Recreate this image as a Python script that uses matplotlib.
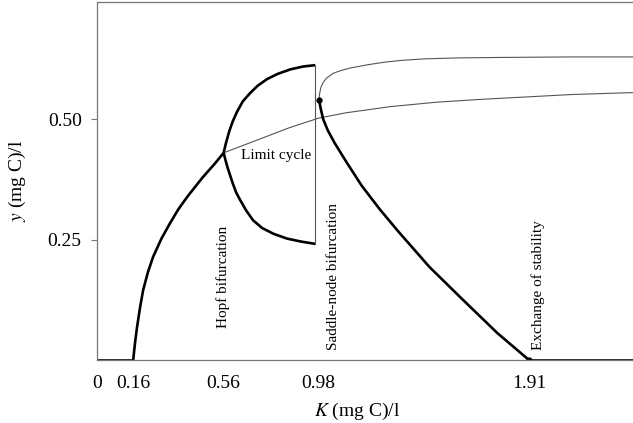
import matplotlib.pyplot as plt
import numpy as np

plt.rcParams['font.family'] = ['Liberation Serif', 'DejaVu Serif']
plt.rcParams['mathtext.fontset'] = 'stix'

# equilibrium rising from K = 0.16 up to the Hopf point
rise_K = [0.16, 0.168, 0.177, 0.19, 0.204, 0.225, 0.248, 0.285, 0.323, 0.36, 0.398, 0.435, 0.469, 0.52, 0.56]
rise_y = [0.0, 0.035, 0.068, 0.108, 0.145, 0.182, 0.214, 0.252, 0.284, 0.313, 0.338, 0.36, 0.38, 0.407, 0.43]

# unstable equilibrium after Hopf (thin)
unst_K = [0.56, 0.7, 0.85, 0.98, 1.1, 1.3, 1.5, 1.7, 1.9, 2.1, 2.37]
unst_y = [0.43, 0.455, 0.482, 0.502, 0.513, 0.526, 0.535, 0.541, 0.546, 0.551, 0.555]

# limit cycle max / min
lcmax_K = [0.56, 0.57, 0.585, 0.60, 0.62, 0.645, 0.677, 0.71, 0.752, 0.80, 0.854, 0.91, 0.965]
lcmax_y = [0.43, 0.45, 0.475, 0.495, 0.516, 0.537, 0.554, 0.569, 0.583, 0.594, 0.603, 0.609, 0.612]
lcmin_K = [0.56, 0.568, 0.577, 0.588, 0.60, 0.615, 0.633, 0.66, 0.69, 0.73, 0.78, 0.84, 0.90, 0.965]
lcmin_y = [0.43, 0.415, 0.4, 0.384, 0.367, 0.348, 0.332, 0.31, 0.29, 0.274, 0.262, 0.252, 0.246, 0.241]

# upper unstable branch from saddle-node (thin)
upper_K = [0.982, 0.984, 0.99, 1.0, 1.015, 1.044, 1.08, 1.12, 1.2, 1.27, 1.35, 1.45, 1.6, 1.8, 2.1, 2.37]
upper_y = [0.539, 0.552, 0.566, 0.576, 0.585, 0.595, 0.601, 0.606, 0.613, 0.618, 0.622, 0.625, 0.627, 0.628, 0.629, 0.629]

# stable branch falling to exchange of stability
fall_K = [0.982, 0.99, 1.0, 1.02, 1.05, 1.10, 1.17, 1.25, 1.33, 1.47, 1.62, 1.77, 1.91]
fall_y = [0.539, 0.52, 0.50, 0.477, 0.451, 0.413, 0.362, 0.313, 0.268, 0.193, 0.124, 0.056, 0.0]

tick_K = [0, 0.16, 0.56, 0.98, 1.91]
tick_K_labels = ['0', '0.16', '0.56', '0.98', '1.91']
tick_y = [0.25, 0.50]
tick_y_labels = ['0.25', '0.50']

fig = plt.figure(figsize=(6.33, 4.23), dpi=100)
ax = fig.add_axes([97 / 633, 63 / 423, 1 - 97 / 633, 358 / 423])

thick = dict(color='black', lw=1.9, solid_capstyle='butt', solid_joinstyle='round')
thin = dict(color='#555555', lw=0.8)

ax.plot([0, 0.16], [0, 0], **thick)
ax.plot(rise_K, rise_y, **thick)
ax.plot(unst_K, unst_y, **thin)
ax.plot(lcmax_K, lcmax_y, **thick)
ax.plot(lcmin_K, lcmin_y, **thick)
ax.plot([0.965, 0.965], [lcmin_y[-1], lcmax_y[-1]], **thin)
ax.plot(upper_K, upper_y, **thin)
ax.plot(fall_K, fall_y, **thick)
ax.plot([1.91, 2.37], [0, 0], **thick)
ax.plot([0.982, 1.91], [0.539, 0.0], 'o', color='black', ms=3.5)

ax.text(0.792, 0.425, 'Limit cycle', fontsize=11, ha='center', va='center')
ax.text(0.558, 0.067, 'Hopf bifurcation', fontsize=11, rotation=90, ha='center', va='bottom')
ax.text(1.044, 0.021, 'Saddle-node bifurcation', fontsize=11, rotation=90, ha='center', va='bottom')
ax.text(1.951, 0.021, 'Exchange of stability', fontsize=11, rotation=90, ha='center', va='bottom')

ax.set_xlim(0, 2.37)
ax.set_ylim(0, 0.743)
ax.set_xticks(tick_K)
ax.set_xticklabels(tick_K_labels, fontsize=14)
ax.set_yticks(tick_y)
ax.set_yticklabels(tick_y_labels, fontsize=14)
ax.tick_params(axis='x', length=0, pad=11)
ax.tick_params(axis='y', length=4, width=0.8, color='#777777', pad=7)

for s in ['left', 'top', 'bottom']:
    ax.spines[s].set_color('#777777')
    ax.spines[s].set_linewidth(0.9)
ax.spines['right'].set_visible(False)

ax.set_xlabel(r'$K$ (mg C)/l', fontsize=14)
ax.xaxis.set_label_coords(0.485, -0.115)
ax.set_ylabel(r'$y$ (mg C)/l', fontsize=14)
ax.yaxis.set_label_coords(-0.128, 0.5)

fig.savefig('out.png', dpi=100)
